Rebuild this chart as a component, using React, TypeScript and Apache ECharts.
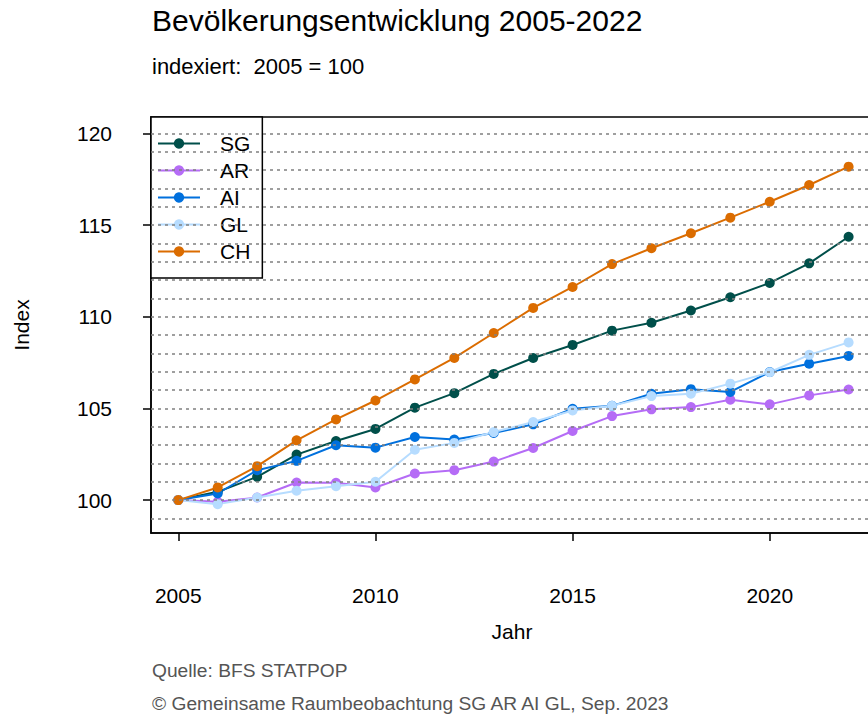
import React, { useEffect, useRef } from "react";
import * as echarts from "echarts";

const years = [2005, 2006, 2007, 2008, 2009, 2010, 2011, 2012, 2013, 2014, 2015, 2016, 2017, 2018, 2019, 2020, 2021, 2022];
const seriesNames = ["SG", "AR", "AI", "GL", "CH"];
const sgValues = [100, 100.45, 101.27, 102.48, 103.22, 103.88, 105.04, 105.83, 106.88, 107.75, 108.46, 109.24, 109.67, 110.34, 111.06, 111.84, 112.91, 114.36];
const arValues = [100, 99.91, 100.14, 100.96, 100.94, 100.69, 101.45, 101.63, 102.1, 102.84, 103.77, 104.58, 104.95, 105.07, 105.47, 105.22, 105.71, 106.03];
const aiValues = [100, 100.36, 101.63, 102.14, 102.99, 102.86, 103.44, 103.3, 103.66, 104.13, 104.98, 105.14, 105.8, 106.05, 105.9, 106.98, 107.44, 107.86];
const glValues = [100, 99.78, 100.14, 100.51, 100.76, 101.0, 102.75, 103.12, 103.71, 104.26, 104.89, 105.14, 105.67, 105.8, 106.35, 106.97, 107.92, 108.6];
const chValues = [100, 100.69, 101.85, 103.26, 104.4, 105.43, 106.58, 107.75, 109.11, 110.48, 111.62, 112.87, 113.73, 114.55, 115.4, 116.27, 117.18, 118.18];
const colors = ["#004f4a", "#b56cf6", "#0070dd", "#b6dcff", "#db6c00"];
const xTickLabels = [2005, 2010, 2015, 2020];
const yTickLabels = [100, 105, 110, 115, 120];
const gridValues = [99, 100, 101, 102, 103, 104, 105, 106, 107, 108, 109, 110, 111, 112, 113, 114, 115, 116, 117, 118, 119, 120];

const FONT = "'Liberation Sans', Arial, sans-serif";

export default function App() {
  const ref = useRef<HTMLDivElement>(null);
  useEffect(() => {
    if (!ref.current) return;
    const chart = echarts.init(ref.current, null, { renderer: "svg" });
    const allValues = [sgValues, arValues, aiValues, glValues, chValues];
    const lineSeries = seriesNames.map((name, i) => ({
      name,
      type: "line",
      z: 3,
      data: years.map((y, j) => [y, allValues[i][j]]),
      symbol: "circle",
      symbolSize: 10,
      showSymbol: true,
      lineStyle: { color: colors[i], width: 2 },
      itemStyle: { color: colors[i] },
      emphasis: { disabled: true },
    }));
    const option: any = {
      animation: false,
      backgroundColor: "#ffffff",
      textStyle: { fontFamily: FONT },
      grid: {
        left: 151,
        top: 117,
        width: 723,
        height: 416,
        show: true,
        borderColor: "#000",
        borderWidth: 1.5,
        backgroundColor: "transparent",
      },
      xAxis: {
        type: "value",
        min: 2004.308,
        max: 2022.644,
        axisLine: { show: true, onZero: false, lineStyle: { color: "#000", width: 1.5 } },
        axisTick: { show: true, customValues: xTickLabels, length: 8, lineStyle: { color: "#000", width: 1.5 } },
        axisLabel: { show: true, customValues: xTickLabels, margin: 52, fontSize: 21, color: "#000", fontFamily: FONT, formatter: (v: number) => String(v) },
        splitLine: { show: false },
      },
      yAxis: {
        type: "value",
        min: 98.206,
        max: 120.889,
        axisLine: { show: true, onZero: false, lineStyle: { color: "#000", width: 1.5 } },
        axisTick: { show: true, customValues: yTickLabels, length: 8, lineStyle: { color: "#000", width: 1.5 } },
        axisLabel: { show: true, customValues: yTickLabels, margin: 39, fontSize: 21, color: "#000", fontFamily: FONT, formatter: (v: number) => String(v) },
        splitLine: { show: false },
      },
      legend: {
        data: seriesNames,
        orient: "vertical",
        left: 151,
        top: 117,
        padding: [16, 12, 16, 6],
        itemGap: 6,
        itemWidth: 42,
        itemHeight: 13,
        backgroundColor: "#ffffff",
        borderColor: "#000",
        borderWidth: 1.5,
        borderRadius: 0,
        selectedMode: false,
        textStyle: { fontSize: 21, color: "#000", fontFamily: FONT, padding: [0, 0, 0, 15] },
      },
      series: [
        {
          name: "grid",
          type: "line",
          z: 1,
          data: [],
          silent: true,
          markLine: {
            silent: true,
            symbol: "none",
            label: { show: false },
            lineStyle: { color: "#808080", width: 1.5, type: [3, 4] },
            emphasis: { disabled: true },
            data: gridValues.map((v) => ({ yAxis: v })),
          },
        },
        ...lineSeries,
      ],
      graphic: [
        { type: "text", x: 152, y: 20, style: { text: "Bevölkerungsentwicklung 2005-2022", font: `30px ${FONT}`, fill: "#000", verticalAlign: "middle", align: "left" } },
        { type: "text", x: 152, y: 66, style: { text: "indexiert:  2005 = 100", font: `22px ${FONT}`, fill: "#000", verticalAlign: "middle", align: "left" } },
        { type: "text", x: 21, y: 325, rotation: Math.PI / 2, style: { text: "Index", font: `21px ${FONT}`, fill: "#000", verticalAlign: "middle", align: "center" } },
        { type: "text", x: 512, y: 631, style: { text: "Jahr", font: `21px ${FONT}`, fill: "#000", verticalAlign: "middle", align: "center" } },
        { type: "text", x: 152, y: 670, style: { text: "Quelle: BFS STATPOP", font: `19.2px ${FONT}`, fill: "#555555", verticalAlign: "middle", align: "left" } },
        { type: "text", x: 152, y: 703, style: { text: "© Gemeinsame Raumbeobachtung SG AR AI GL, Sep. 2023", font: `19.2px ${FONT}`, fill: "#555555", verticalAlign: "middle", align: "left" } },
      ],
    };
    chart.setOption(option);
    return () => chart.dispose();
  }, []);
  return (
    <div style={{ position: "fixed", left: 0, top: 0, width: 868, height: 714, overflow: "hidden", background: "#fff" }}>
      <div ref={ref} style={{ width: 880, height: 714 }} />
    </div>
  );
}
